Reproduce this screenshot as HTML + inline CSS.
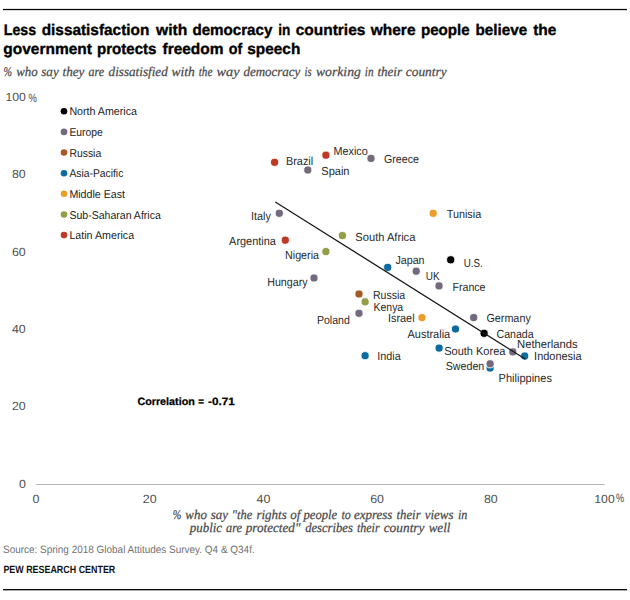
<!DOCTYPE html>
<html><head><meta charset="utf-8"><title>chart</title>
<style>
html,body{margin:0;padding:0;background:#fff;}
svg{display:block;}
text{font-family:"Liberation Sans",sans-serif;text-rendering:geometricPrecision;}
.t{font-weight:bold;font-size:15.4px;fill:#000;stroke:#000;stroke-width:0.35px;}
.s{font-family:"Liberation Serif",serif;font-style:italic;font-size:13.3px;fill:#4a4a4a;stroke:#4a4a4a;stroke-width:0.25px;}
.ax{font-size:11.8px;fill:#505050;}
.pc{font-size:12px;fill:#6e6e6e;stroke:#6e6e6e;stroke-width:0.2px;}
.lb{font-size:11.7px;fill:#2b2b2b;}
.lg{font-size:11.3px;fill:#222;}
.src{font-size:10.6px;fill:#727272;}
.pew{font-size:10.5px;font-weight:bold;fill:#111;}
.cor{font-size:10.6px;font-weight:bold;fill:#000;stroke:#000;stroke-width:0.25px;}
</style></head><body>
<svg width="630" height="600" viewBox="0 0 630 600">
<rect width="630" height="600" fill="#fff"/>
<rect x="3" y="8.9" width="624" height="1.25" fill="#000"/>
<rect x="3" y="589.05" width="624" height="1.3" fill="#000"/>

<text class="t" x="3.8" y="35.0" textLength="32.3" lengthAdjust="spacingAndGlyphs">Less</text>
<text class="t" x="41.7" y="35.0" textLength="107.6" lengthAdjust="spacingAndGlyphs">dissatisfaction</text>
<text class="t" x="156.0" y="35.0" textLength="31.3" lengthAdjust="spacingAndGlyphs">with</text>
<text class="t" x="192.4" y="35.0" textLength="80.0" lengthAdjust="spacingAndGlyphs">democracy</text>
<text class="t" x="278.3" y="35.0" textLength="12.1" lengthAdjust="spacingAndGlyphs">in</text>
<text class="t" x="295.7" y="35.0" textLength="69.7" lengthAdjust="spacingAndGlyphs">countries</text>
<text class="t" x="370.8" y="35.0" textLength="44.7" lengthAdjust="spacingAndGlyphs">where</text>
<text class="t" x="420.9" y="35.0" textLength="48.8" lengthAdjust="spacingAndGlyphs">people</text>
<text class="t" x="475.5" y="35.0" textLength="51.8" lengthAdjust="spacingAndGlyphs">believe</text>
<text class="t" x="533.2" y="35.0" textLength="23.3" lengthAdjust="spacingAndGlyphs">the</text>
<text class="t" x="3.3" y="54.4" textLength="88.6" lengthAdjust="spacingAndGlyphs">government</text>
<text class="t" x="97.0" y="54.4" textLength="59.4" lengthAdjust="spacingAndGlyphs">protects</text>
<text class="t" x="162.5" y="54.4" textLength="61.0" lengthAdjust="spacingAndGlyphs">freedom</text>
<text class="t" x="228.7" y="54.4" textLength="13.5" lengthAdjust="spacingAndGlyphs">of</text>
<text class="t" x="247.3" y="54.4" textLength="53.0" lengthAdjust="spacingAndGlyphs">speech</text>
<text class="s" x="3.5" y="76.4" textLength="8.5" lengthAdjust="spacingAndGlyphs">%</text>
<text class="s" x="16.2" y="76.4" textLength="21.5" lengthAdjust="spacingAndGlyphs">who</text>
<text class="s" x="41.3" y="76.4" textLength="17.4" lengthAdjust="spacingAndGlyphs">say</text>
<text class="s" x="62.5" y="76.4" textLength="21.9" lengthAdjust="spacingAndGlyphs">they</text>
<text class="s" x="88.6" y="76.4" textLength="15.6" lengthAdjust="spacingAndGlyphs">are</text>
<text class="s" x="108.6" y="76.4" textLength="59.1" lengthAdjust="spacingAndGlyphs">dissatisfied</text>
<text class="s" x="171.4" y="76.4" textLength="23.3" lengthAdjust="spacingAndGlyphs">with</text>
<text class="s" x="198.7" y="76.4" textLength="13.7" lengthAdjust="spacingAndGlyphs">the</text>
<text class="s" x="216.6" y="76.4" textLength="23.0" lengthAdjust="spacingAndGlyphs">way</text>
<text class="s" x="243.4" y="76.4" textLength="57.0" lengthAdjust="spacingAndGlyphs">democracy</text>
<text class="s" x="304.6" y="76.4" textLength="7.0" lengthAdjust="spacingAndGlyphs">is</text>
<text class="s" x="316.0" y="76.4" textLength="44.8" lengthAdjust="spacingAndGlyphs">working</text>
<text class="s" x="364.8" y="76.4" textLength="8.7" lengthAdjust="spacingAndGlyphs">in</text>
<text class="s" x="377.4" y="76.4" textLength="24.7" lengthAdjust="spacingAndGlyphs">their</text>
<text class="s" x="405.8" y="76.4" textLength="40.8" lengthAdjust="spacingAndGlyphs">country</text>
<text class="ax" x="5.4" y="101.1" textLength="20.4" lengthAdjust="spacingAndGlyphs">100</text>
<text class="ax" x="11.9" y="178.4" textLength="13.8" lengthAdjust="spacingAndGlyphs">80</text>
<text class="ax" x="11.9" y="255.7" textLength="13.8" lengthAdjust="spacingAndGlyphs">60</text>
<text class="ax" x="11.9" y="333.0" textLength="13.8" lengthAdjust="spacingAndGlyphs">40</text>
<text class="ax" x="11.9" y="410.3" textLength="13.8" lengthAdjust="spacingAndGlyphs">20</text>
<text class="ax" x="18.9" y="487.6" textLength="6.9" lengthAdjust="spacingAndGlyphs">0</text>
<text class="pc" x="28.4" y="102.0" textLength="8.3" lengthAdjust="spacingAndGlyphs">%</text>
<rect x="36" y="484.0" width="568.6" height="1" fill="#b5b5b5"/>
<text class="ax" x="32.5" y="502.8" textLength="6.9" lengthAdjust="spacingAndGlyphs">0</text>
<text class="ax" x="142.8" y="502.8" textLength="13.8" lengthAdjust="spacingAndGlyphs">20</text>
<text class="ax" x="256.5" y="502.8" textLength="13.8" lengthAdjust="spacingAndGlyphs">40</text>
<text class="ax" x="370.2" y="502.8" textLength="13.8" lengthAdjust="spacingAndGlyphs">60</text>
<text class="ax" x="483.9" y="502.8" textLength="13.8" lengthAdjust="spacingAndGlyphs">80</text>
<text class="ax" x="594.3" y="502.8" textLength="20.4" lengthAdjust="spacingAndGlyphs">100</text>
<text class="pc" x="616.0" y="502.2" textLength="8.1" lengthAdjust="spacingAndGlyphs">%</text>
<text class="s" x="172.8" y="518.7" textLength="8.6" lengthAdjust="spacingAndGlyphs">%</text>
<text class="s" x="185.3" y="518.7" textLength="21.6" lengthAdjust="spacingAndGlyphs">who</text>
<text class="s" x="210.7" y="518.7" textLength="17.2" lengthAdjust="spacingAndGlyphs">say</text>
<text class="s" x="231.8" y="518.7" textLength="20.4" lengthAdjust="spacingAndGlyphs">&quot;the</text>
<text class="s" x="256.4" y="518.7" textLength="30.4" lengthAdjust="spacingAndGlyphs">rights</text>
<text class="s" x="290.3" y="518.7" textLength="10.1" lengthAdjust="spacingAndGlyphs">of</text>
<text class="s" x="303.5" y="518.7" textLength="33.7" lengthAdjust="spacingAndGlyphs">people</text>
<text class="s" x="341.4" y="518.7" textLength="9.4" lengthAdjust="spacingAndGlyphs">to</text>
<text class="s" x="354.1" y="518.7" textLength="38.3" lengthAdjust="spacingAndGlyphs">express</text>
<text class="s" x="396.6" y="518.7" textLength="24.0" lengthAdjust="spacingAndGlyphs">their</text>
<text class="s" x="424.7" y="518.7" textLength="28.9" lengthAdjust="spacingAndGlyphs">views</text>
<text class="s" x="458.0" y="518.7" textLength="9.4" lengthAdjust="spacingAndGlyphs">in</text>
<text class="s" x="189.8" y="532.4" textLength="32.3" lengthAdjust="spacingAndGlyphs">public</text>
<text class="s" x="226.0" y="532.4" textLength="16.0" lengthAdjust="spacingAndGlyphs">are</text>
<text class="s" x="245.8" y="532.4" textLength="54.6" lengthAdjust="spacingAndGlyphs">protected&quot;</text>
<text class="s" x="305.2" y="532.4" textLength="47.7" lengthAdjust="spacingAndGlyphs">describes</text>
<text class="s" x="357.0" y="532.4" textLength="22.6" lengthAdjust="spacingAndGlyphs">their</text>
<text class="s" x="383.7" y="532.4" textLength="40.8" lengthAdjust="spacingAndGlyphs">country</text>
<text class="s" x="428.7" y="532.4" textLength="21.7" lengthAdjust="spacingAndGlyphs">well</text>
<circle cx="64.0" cy="111.2" r="3.3" fill="#000000"/>
<text class="lg" x="69.4" y="115.3" textLength="67.6" lengthAdjust="spacingAndGlyphs">North America</text>
<circle cx="64.0" cy="131.9" r="3.3" fill="#746a7e"/>
<text class="lg" x="69.4" y="136.0" textLength="33.4" lengthAdjust="spacingAndGlyphs">Europe</text>
<circle cx="64.0" cy="152.5" r="3.3" fill="#a55a26"/>
<text class="lg" x="69.4" y="156.6" textLength="31.8" lengthAdjust="spacingAndGlyphs">Russia</text>
<circle cx="64.0" cy="173.2" r="3.3" fill="#0e6ba0"/>
<text class="lg" x="69.4" y="177.3" textLength="53.9" lengthAdjust="spacingAndGlyphs">Asia-Pacific</text>
<circle cx="64.0" cy="193.8" r="3.3" fill="#ea9e2c"/>
<text class="lg" x="69.4" y="197.9" textLength="55.6" lengthAdjust="spacingAndGlyphs">Middle East</text>
<circle cx="64.0" cy="214.5" r="3.3" fill="#949d48"/>
<text class="lg" x="69.4" y="218.6" textLength="91.4" lengthAdjust="spacingAndGlyphs">Sub-Saharan Africa</text>
<circle cx="64.0" cy="235.1" r="3.3" fill="#bf3927"/>
<text class="lg" x="69.4" y="239.2" textLength="64.7" lengthAdjust="spacingAndGlyphs">Latin America</text>
<circle cx="490.1" cy="368.0" r="4.1" fill="#0e6ba0" stroke="#fff" stroke-width="0.9"/>
<circle cx="274.6" cy="162.3" r="4.1" fill="#bf3927" stroke="#fff" stroke-width="0.9"/>
<circle cx="325.9" cy="155.2" r="4.1" fill="#bf3927" stroke="#fff" stroke-width="0.9"/>
<circle cx="371.0" cy="158.4" r="4.1" fill="#746a7e" stroke="#fff" stroke-width="0.9"/>
<circle cx="307.8" cy="170.0" r="4.1" fill="#746a7e" stroke="#fff" stroke-width="0.9"/>
<circle cx="279.3" cy="213.3" r="4.1" fill="#746a7e" stroke="#fff" stroke-width="0.9"/>
<circle cx="285.3" cy="240.2" r="4.1" fill="#bf3927" stroke="#fff" stroke-width="0.9"/>
<circle cx="325.9" cy="251.6" r="4.1" fill="#949d48" stroke="#fff" stroke-width="0.9"/>
<circle cx="342.4" cy="235.6" r="4.1" fill="#949d48" stroke="#fff" stroke-width="0.9"/>
<circle cx="314.0" cy="278.0" r="4.1" fill="#746a7e" stroke="#fff" stroke-width="0.9"/>
<circle cx="433.2" cy="213.3" r="4.1" fill="#ea9e2c" stroke="#fff" stroke-width="0.9"/>
<circle cx="387.7" cy="267.4" r="4.1" fill="#0e6ba0" stroke="#fff" stroke-width="0.9"/>
<circle cx="450.7" cy="259.8" r="4.1" fill="#000000" stroke="#fff" stroke-width="0.9"/>
<circle cx="416.2" cy="271.2" r="4.1" fill="#746a7e" stroke="#fff" stroke-width="0.9"/>
<circle cx="439.0" cy="285.9" r="4.1" fill="#746a7e" stroke="#fff" stroke-width="0.9"/>
<circle cx="359.0" cy="294.0" r="4.1" fill="#a55a26" stroke="#fff" stroke-width="0.9"/>
<circle cx="365.1" cy="301.8" r="4.1" fill="#949d48" stroke="#fff" stroke-width="0.9"/>
<circle cx="359.0" cy="313.3" r="4.1" fill="#746a7e" stroke="#fff" stroke-width="0.9"/>
<circle cx="422.0" cy="317.6" r="4.1" fill="#ea9e2c" stroke="#fff" stroke-width="0.9"/>
<circle cx="455.5" cy="329.0" r="4.1" fill="#0e6ba0" stroke="#fff" stroke-width="0.9"/>
<circle cx="365.1" cy="355.7" r="4.1" fill="#0e6ba0" stroke="#fff" stroke-width="0.9"/>
<circle cx="439.1" cy="348.1" r="4.1" fill="#0e6ba0" stroke="#fff" stroke-width="0.9"/>
<circle cx="473.7" cy="317.6" r="4.1" fill="#746a7e" stroke="#fff" stroke-width="0.9"/>
<circle cx="484.1" cy="333.3" r="4.1" fill="#000000" stroke="#fff" stroke-width="0.9"/>
<circle cx="512.8" cy="351.9" r="4.1" fill="#746a7e" stroke="#fff" stroke-width="0.9"/>
<circle cx="524.7" cy="356.0" r="4.1" fill="#0e6ba0" stroke="#fff" stroke-width="0.9"/>
<circle cx="490.1" cy="363.8" r="4.1" fill="#746a7e" stroke="#fff" stroke-width="0.9"/>
<line x1="275.3" y1="202.0" x2="525.6" y2="359.2" stroke="#1a1a1a" stroke-width="1.3"/>
<text class="lb" x="498.6" y="382.1" textLength="53.3" lengthAdjust="spacingAndGlyphs">Philippines</text>
<text class="lb" x="286.0" y="164.8" textLength="27.2" lengthAdjust="spacingAndGlyphs">Brazil</text>
<text class="lb" x="333.5" y="155.4" textLength="34.3" lengthAdjust="spacingAndGlyphs">Mexico</text>
<text class="lb" x="383.9" y="163.1" textLength="35.1" lengthAdjust="spacingAndGlyphs">Greece</text>
<text class="lb" x="321.3" y="174.7" textLength="28.2" lengthAdjust="spacingAndGlyphs">Spain</text>
<text class="lb" x="251.0" y="220.1" textLength="19.8" lengthAdjust="spacingAndGlyphs">Italy</text>
<text class="lb" x="229.1" y="244.7" textLength="46.8" lengthAdjust="spacingAndGlyphs">Argentina</text>
<text class="lb" x="285.0" y="259.2" textLength="34.0" lengthAdjust="spacingAndGlyphs">Nigeria</text>
<text class="lb" x="355.3" y="241.2" textLength="60.1" lengthAdjust="spacingAndGlyphs">South Africa</text>
<text class="lb" x="267.2" y="286.2" textLength="40.4" lengthAdjust="spacingAndGlyphs">Hungary</text>
<text class="lb" x="446.7" y="218.1" textLength="34.5" lengthAdjust="spacingAndGlyphs">Tunisia</text>
<text class="lb" x="395.4" y="263.8" textLength="29.2" lengthAdjust="spacingAndGlyphs">Japan</text>
<text class="lb" x="463.7" y="266.8" textLength="19.0" lengthAdjust="spacingAndGlyphs">U.S.</text>
<text class="lb" x="425.8" y="279.8" textLength="13.8" lengthAdjust="spacingAndGlyphs">UK</text>
<text class="lb" x="452.5" y="290.9" textLength="33.0" lengthAdjust="spacingAndGlyphs">France</text>
<text class="lb" x="373.0" y="299.0" textLength="32.2" lengthAdjust="spacingAndGlyphs">Russia</text>
<text class="lb" x="373.5" y="310.7" textLength="29.7" lengthAdjust="spacingAndGlyphs">Kenya</text>
<text class="lb" x="316.9" y="324.1" textLength="33.0" lengthAdjust="spacingAndGlyphs">Poland</text>
<text class="lb" x="388.0" y="322.4" textLength="26.6" lengthAdjust="spacingAndGlyphs">Israel</text>
<text class="lb" x="407.5" y="337.6" textLength="42.7" lengthAdjust="spacingAndGlyphs">Australia</text>
<text class="lb" x="377.3" y="359.7" textLength="23.4" lengthAdjust="spacingAndGlyphs">India</text>
<text class="lb" x="444.2" y="354.6" textLength="61.2" lengthAdjust="spacingAndGlyphs">South Korea</text>
<text class="lb" x="486.4" y="322.1" textLength="44.4" lengthAdjust="spacingAndGlyphs">Germany</text>
<text class="lb" x="496.5" y="337.9" textLength="37.1" lengthAdjust="spacingAndGlyphs">Canada</text>
<text class="lb" x="517.1" y="347.5" textLength="60.5" lengthAdjust="spacingAndGlyphs">Netherlands</text>
<text class="lb" x="534.1" y="359.7" textLength="47.5" lengthAdjust="spacingAndGlyphs">Indonesia</text>
<text class="lb" x="445.7" y="369.9" textLength="38.6" lengthAdjust="spacingAndGlyphs">Sweden</text>
<text class="cor" x="137.4" y="404.7" textLength="57.4" lengthAdjust="spacingAndGlyphs">Correlation</text>
<text class="cor" x="198.2" y="404.7" textLength="5.7" lengthAdjust="spacingAndGlyphs">=</text>
<text class="cor" x="208.1" y="404.7" textLength="26.7" lengthAdjust="spacingAndGlyphs">-0.71</text>
<text class="src" x="3.0" y="552.8" textLength="251.7" lengthAdjust="spacingAndGlyphs">Source: Spring 2018 Global Attitudes Survey. Q4 &amp; Q34f.</text>
<text class="pew" x="3.4" y="573.0" textLength="111.9" lengthAdjust="spacingAndGlyphs">PEW RESEARCH CENTER</text>
</svg></body></html>
